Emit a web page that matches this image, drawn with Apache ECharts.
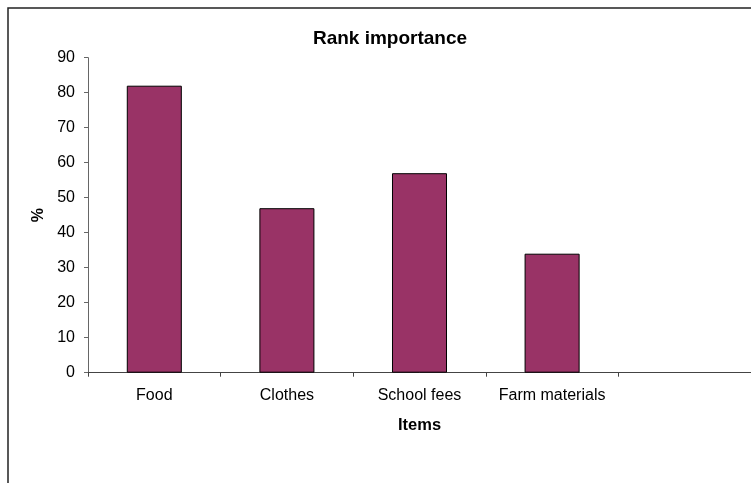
<!DOCTYPE html>
<html>
<head>
<meta charset="utf-8">
<script src="https://cdn.jsdelivr.net/npm/echarts@6/dist/echarts.min.js"></script>
<style>
html,body{margin:0;padding:0;background:#fff;}
#c{width:751px;height:483px;}
</style>
</head>
<body>
<div id="c"></div>
<script>
var categories = ['Food', 'Clothes', 'School fees', 'Farm materials', ''];
var values = [82, 47, 57, 34, null];
var yTicks = [0, 10, 20, 30, 40, 50, 60, 70, 80, 90];

var FONT = '"Liberation Sans", Arial, sans-serif';
var chart = echarts.init(document.getElementById('c'), null, {renderer: 'canvas'});
chart.setOption({
  animation: false,
  backgroundColor: '#fff',
  title: {
    text: 'Rank importance',
    left: 385, top: 24, textAlign: 'center',
    textStyle: {fontFamily: FONT, fontSize: 19, fontWeight: 'bold', color: '#000'}
  },
  graphic: [{
    type: 'rect', z: -1,
    shape: {x: 8, y: 8, width: 770, height: 500},
    style: {fill: 'none', stroke: '#222', lineWidth: 1.5}
  }],
  grid: {left: 88, top: 57.7, width: 668.5, height: 315},
  xAxis: {
    type: 'category',
    data: categories,
    name: 'Items',
    nameLocation: 'middle',
    nameGap: 44,
    nameTextStyle: {fontFamily: FONT, fontSize: 16.5, fontWeight: 'bold', color: '#000'},
    axisLine: {lineStyle: {color: '#444', width: 1}},
    axisTick: {show: true, alignWithLabel: false, length: 4, lineStyle: {color: '#444'}},
    axisLabel: {fontFamily: FONT, fontSize: 16, color: '#000', margin: 15, interval: 0},
    splitLine: {show: false}
  },
  yAxis: {
    type: 'value',
    min: yTicks[0], max: yTicks[yTicks.length - 1], interval: 10,
    name: '%',
    nameLocation: 'middle',
    nameRotate: 90,
    nameGap: 38,
    nameTextStyle: {fontFamily: FONT, fontSize: 16, fontWeight: 'bold', color: '#000'},
    axisLine: {show: true, lineStyle: {color: '#666', width: 1}},
    axisTick: {show: true, length: 4, lineStyle: {color: '#666'}},
    axisLabel: {fontFamily: FONT, fontSize: 16, color: '#000', margin: 13},
    splitLine: {show: false}
  },
  series: [{
    type: 'bar',
    data: values,
    barWidth: '41.5%',
    itemStyle: {color: '#993366', borderColor: '#000', borderWidth: 1}
  }]
});
</script>
</body>
</html>
